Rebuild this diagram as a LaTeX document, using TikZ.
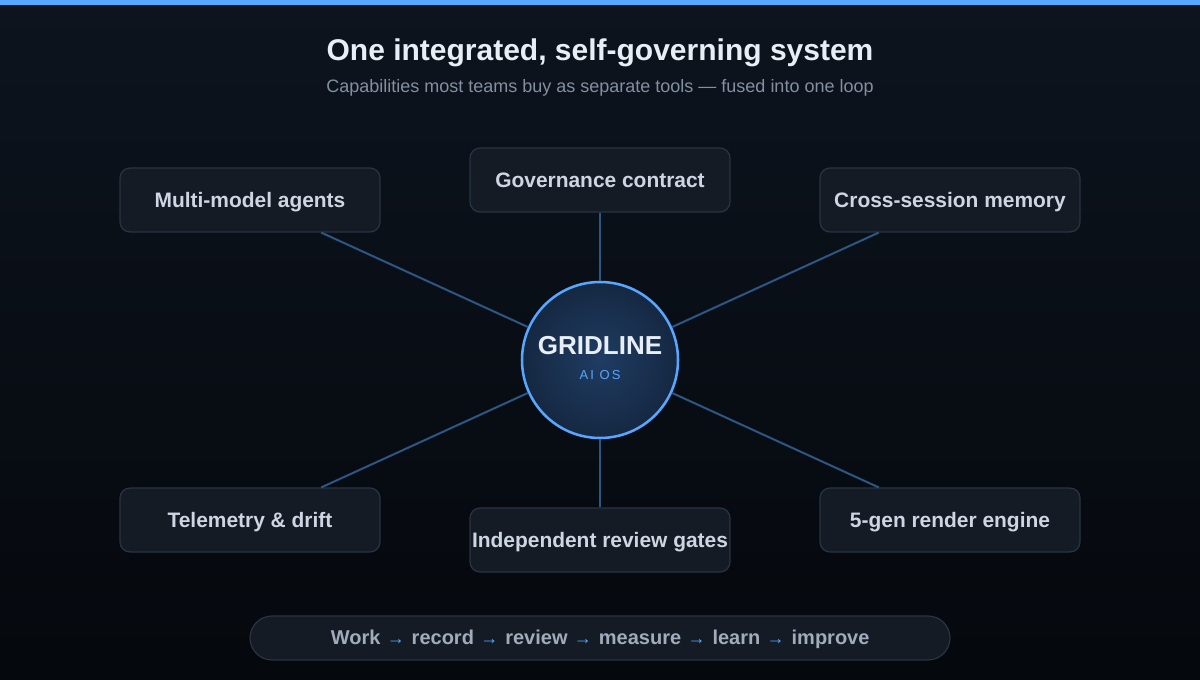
\documentclass[tikz,border=0pt]{standalone}
\usepackage{fontspec}
\setmainfont{Liberation Sans}
\usetikzlibrary{positioning,calc}
\definecolor{bgtop}{RGB}{13,20,30}
\definecolor{bgbot}{RGB}{5,8,13}
\definecolor{accent}{RGB}{88,166,255}
\definecolor{boxfill}{RGB}{20,27,36}
\definecolor{boxline}{RGB}{40,52,66}
\definecolor{spokeblue}{RGB}{46,86,132}
\definecolor{boxtext}{RGB}{205,214,226}
\definecolor{titletext}{RGB}{232,238,245}
\definecolor{subtext}{RGB}{130,144,160}
\definecolor{looptext}{RGB}{160,172,187}
\definecolor{hubin}{RGB}{31,60,98}
\definecolor{hubout}{RGB}{21,40,66}

\begin{document}
\begin{tikzpicture}[x=0.75pt, y=-0.75pt, every node/.style={font=\bfseries}]
  \tikzstyle{capbox}=[draw=boxline, fill=boxfill, line width=0.9pt, rounded corners=7.5pt, minimum width=195pt, minimum height=48pt, inner sep=0pt, text height=11.2pt, text depth=0pt, text=boxtext, font=\fontsize{15.7}{18}\selectfont\bfseries]
  \tikzstyle{spoke}=[draw=spokeblue, line width=1.5pt]
  \tikzstyle{loopword}=[inner sep=0pt, text=looptext, font=\fontsize{15}{18}\selectfont\bfseries]
  \tikzstyle{looparrow}=[inner sep=0pt, text=accent, font=\fontsize{13.5}{14}\selectfont]
  % background and top strip
  \shade[top color=bgtop, bottom color=bgbot] (0,0) rectangle (1200,680);
  \fill[accent] (0,0) rectangle (1200,5);
  \useasboundingbox (0,0) rectangle (1200,680);
  % heading
  \node[anchor=base, text=titletext, font=\fontsize{22.5}{26}\selectfont\bfseries] (title) at (600,60.5) {One integrated, self-governing system};
  \node[anchor=base, text=subtext, font=\fontsize{13.5}{16}\selectfont] (subtitle) at (600,92.5) {Capabilities most teams buy as separate tools — fused into one loop};
  % hub
  \node[circle, minimum size=117pt, inner sep=0pt, draw=accent, line width=1.9pt, inner color=hubin, outer color=hubout] (hub) at (600,360) {};
  \node[anchor=base, text=titletext, font=\fontsize{19.5}{22}\selectfont\bfseries] (hubname) at (600,355) {GRIDLINE};
  \node[anchor=base, text=accent, font=\fontsize{9.75}{12}\selectfont\addfontfeature{LetterSpace=16}] (hubsub) at (600,380) {AI OS};
  % capabilities
  \node[capbox] (agents) at (250,200) {Multi-model agents};
  \node[capbox] (contract) at (600,180) {Governance contract};
  \node[capbox] (memory) at (950,200) {Cross-session memory};
  \node[capbox] (telemetry) at (250,520) {Telemetry \& drift};
  \node[capbox] (gates) at (600,540) {Independent review gates};
  \node[capbox] (render) at (950,520) {5-gen render engine};
  % spokes
  \foreach \cp in {agents,contract,memory,telemetry,gates,render}
    \draw[spoke] (hub) -- (\cp);
  % loop strip
  \node[draw=boxline, fill=boxfill, line width=0.9pt, rounded corners=16.5pt, minimum width=525pt, minimum height=33pt] (loop) at (600,638) {};
  \node[loopword, anchor=base west] (work) at (330.5,644) {Work};
  \node[looparrow, base right=4.4pt of work] (a1) {→};
  \node[loopword, base right=4.8pt of a1] (record) {record};
  \node[looparrow, base right=4.4pt of record] (a2) {→};
  \node[loopword, base right=4.8pt of a2] (review) {review};
  \node[looparrow, base right=4.4pt of review] (a3) {→};
  \node[loopword, base right=4.8pt of a3] (measure) {measure};
  \node[looparrow, base right=4.4pt of measure] (a4) {→};
  \node[loopword, base right=4.8pt of a4] (learn) {learn};
  \node[looparrow, base right=4.4pt of learn] (a5) {→};
  \node[loopword, base right=4.8pt of a5] (improve) {improve};
\end{tikzpicture}
\end{document}
